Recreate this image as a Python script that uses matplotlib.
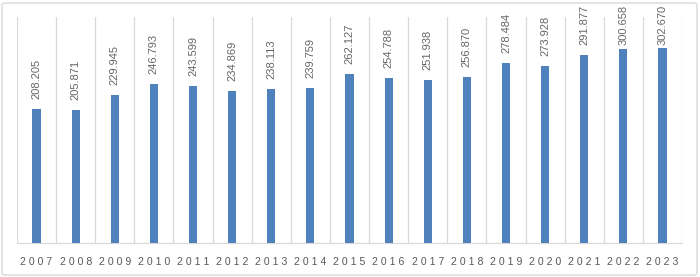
import matplotlib
matplotlib.use("Agg")
import matplotlib.pyplot as plt
from matplotlib.patches import FancyBboxPatch
import numpy as np

years = ["2007", "2008", "2009", "2010", "2011", "2012", "2013", "2014", "2015",
         "2016", "2017", "2018", "2019", "2020", "2021", "2022", "2023"]
values = [208.205, 205.871, 229.945, 246.793, 243.599, 234.869, 238.113, 239.759,
          262.127, 254.788, 251.938, 256.870, 278.484, 273.928, 291.877, 300.658, 302.670]

plt.rcParams['font.family'] = ['Liberation Sans', 'DejaVu Sans']

fig = plt.figure(figsize=(7.0, 2.77), dpi=100)
W, H = 700, 277
ax = fig.add_axes([17 / W, 34 / H, 665 / W, 226 / H])

x = np.arange(len(years))
ax.bar(x, values, width=0.21, color='#4F81BD', zorder=3)

ax.set_xlim(-0.5, len(years) - 0.5)
ax.set_ylim(0, 350)
ax.set_yticks([])
ax.set_xticks(x)
ax.set_xticklabels(["\u2009\u200a".join(y) for y in years], fontsize=7.6, color='#595959')
ax.tick_params(axis='x', length=0, pad=10)
ax.set_xticks(np.arange(-0.5, len(years), 1.0), minor=True)
ax.tick_params(axis='x', which='minor', length=0)
ax.grid(axis='x', which='minor', color='#D9D9D9', linewidth=0.9, zorder=0)
ax.grid(axis='x', which='major', visible=False)
for s in ['top', 'left', 'right']:
    ax.spines[s].set_visible(False)
ax.spines['bottom'].set_color('#D9D9D9')
ax.spines['bottom'].set_linewidth(0.9)

# value labels, kept inside chart area near the top
px_per_unit = 226 / 350
gap = 10 / px_per_unit
max_bottom = (226 + 12 - 40) / px_per_unit
for xi, v in zip(x, values):
    yb = min(v + gap, max_bottom)
    ax.text(xi, yb, f"{v:.3f}", rotation=90, ha='center', va='bottom',
            fontsize=8, color='#666666', clip_on=False)

border = FancyBboxPatch((2 / W, 2 / H), 695 / W, 272 / H,
                        boxstyle="round,pad=0,rounding_size=0.006",
                        transform=fig.transFigure, fill=False,
                        edgecolor='#D9D9D9', linewidth=1.0)
fig.patches.append(border)

fig.savefig("out.png", dpi=100, facecolor='white')
